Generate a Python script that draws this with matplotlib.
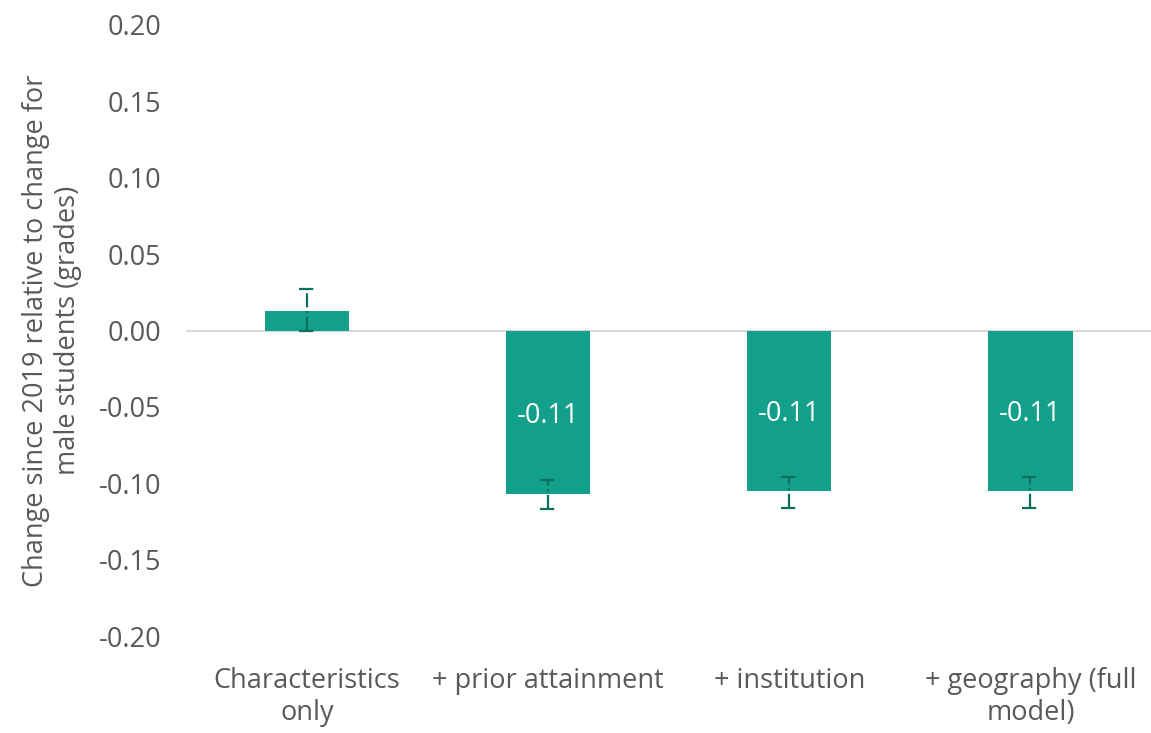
import matplotlib
matplotlib.use("Agg")
import matplotlib.pyplot as plt
import numpy as np

categories = ["Characteristics\nonly", "+ prior attainment", "+ institution", "+ geography (full\nmodel)"]
values = [0.013, -0.107, -0.105, -0.105]
err_low = [-0.0005, -0.117, -0.116, -0.116]
err_high = [0.0275, -0.0975, -0.096, -0.096]
bar_labels = [None, "-0.11", "-0.11", "-0.11"]
yticks = [0.20, 0.15, 0.10, 0.05, 0.00, -0.05, -0.10, -0.15, -0.20]

plt.rcParams["font.family"] = ["Open Sans", "DejaVu Sans"]
text_col = "#595959"
bar_col = "#13a08a"
err_col = "#0d6f5e"
fs = 19.5

fig = plt.figure(figsize=(11.51, 7.33), dpi=100)
ax = fig.add_axes([0.162, 0.132, 0.838, 0.834])

x = np.arange(len(categories))
ax.bar(x, values, width=0.35, color=bar_col, zorder=2)

for xi, lo, hi in zip(x, err_low, err_high):
    ax.plot([xi, xi], [lo, hi], color=err_col, lw=1.6, ls="-.", zorder=3)
    for yv in (lo, hi):
        ax.plot([xi - 0.035, xi + 0.035], [yv, yv], color=err_col, lw=1.6, ls="-.", zorder=3)

for xi, v, lab in zip(x, values, bar_labels):
    if lab:
        ax.text(xi, v / 2, lab, ha="center", va="center_baseline", color="white", fontsize=fs)

ax.axhline(0, color="#d9d9d9", lw=1.5, zorder=1)
ax.set_xlim(-0.5, len(categories) - 0.5)
ax.set_ylim(-0.2, 0.2)
ax.set_yticks(yticks)
ax.set_yticklabels([f"{t:.2f}" for t in yticks], color=text_col, fontsize=fs)
ax.set_xticks(x)
ax.set_xticklabels(categories, color=text_col, fontsize=fs)
ax.tick_params(axis="x", length=0, pad=22)
ax.tick_params(axis="y", length=0, pad=18)
for s in ax.spines.values():
    s.set_visible(False)
ax.set_ylabel("Change since 2019 relative to change for\nmale students (grades)", color=text_col, fontsize=fs, labelpad=12)

fig.savefig("out.png", dpi=100)
